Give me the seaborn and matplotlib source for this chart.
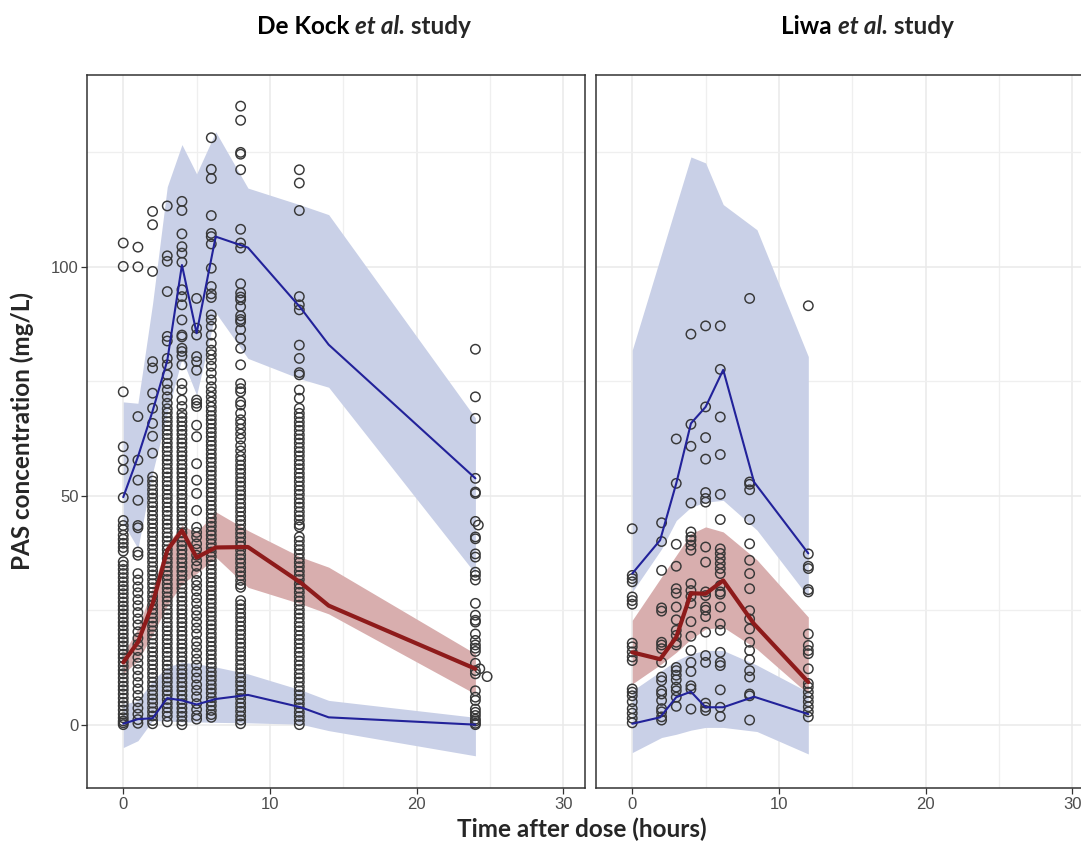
import numpy as np
import pandas as pd
import matplotlib
matplotlib.use("Agg")
import matplotlib.pyplot as plt
from matplotlib import font_manager
from matplotlib.ticker import MultipleLocator
import seaborn as sns

# ---------------- De Kock et al. study: observed PAS (mg/L) ----------------
dk_times = [0, 1, 2, 3, 4, 5, 6, 8, 12, 24]
dk_0h = [105.2, 100.1, 72.7, 60.7, 57.8, 55.7, 49.6, 44.6, 43.5, 42.6, 41.4, 40.5,
         39.6, 38.7, 37.9, 35.6, 34.8, 33.9, 33.0, 32.1, 31.2, 30.3, 29.5, 28.6, 27.7,
         26.8, 25.9, 25.1, 24.2, 23.3, 22.4, 21.6, 20.7, 19.8, 18.9, 18.1, 17.2, 16.3,
         15.4, 14.6, 13.7, 12.8, 11.9, 11.1, 10.2, 9.3, 8.4, 7.6, 6.7, 5.8, 4.9, 4.1,
         3.2, 2.3, 1.5, 0.8, 0.4, 0.0]
dk_1h = [104.3, 100.0, 67.3, 57.8, 53.4, 49.0, 43.5, 43.0, 37.7, 37.0, 33.0, 31.6,
         30.1, 28.8, 27.3, 26.0, 24.5, 23.1, 21.8, 20.3, 18.9, 17.5, 16.2, 14.7, 13.4,
         12.0, 10.6, 9.2, 7.8, 6.4, 5.0, 3.6, 2.3, 1.1, 0.3]
dk_2h = [112.1, 109.2, 99.0, 79.3, 77.9, 72.4, 69.1, 65.8, 63.0, 59.3, 54.1, 53.2,
         52.3, 51.3, 50.4, 49.5, 48.5, 47.6, 46.7, 45.7, 44.8, 43.9, 42.9, 42.0, 41.1,
         40.1, 39.2, 38.3, 37.3, 36.4, 35.5, 34.5, 33.6, 32.7, 31.7, 30.8, 29.9, 28.9,
         28.0, 27.1, 26.1, 25.2, 24.3, 23.3, 22.4, 21.5, 20.5, 19.6, 18.7, 17.7, 16.8,
         15.9, 14.9, 14.0, 13.1, 12.1, 11.2, 10.3, 9.3, 8.4, 7.5, 6.5, 5.6, 4.7, 3.7,
         2.8, 1.9, 0.9, 0.2]
dk_3h = [113.3, 102.4, 101.2, 94.6, 84.8, 83.8, 80.0, 78.6, 76.4, 74.5, 73.1, 71.6,
         70.2, 69.0, 68.1, 67.1, 66.2, 65.3, 64.3, 63.4, 62.5, 61.5, 60.6, 59.7, 58.7,
         57.8, 56.9, 55.9, 55.0, 54.1, 53.1, 52.2, 51.3, 50.3, 49.4, 48.5, 47.5, 46.6,
         45.7, 44.7, 43.8, 42.9, 41.9, 41.0, 40.1, 39.1, 38.2, 37.3, 36.3, 35.4, 34.5,
         33.5, 32.6, 31.7, 30.7, 29.8, 28.9, 27.9, 27.0, 26.1, 25.1, 24.2, 23.3, 22.3,
         21.4, 20.5, 19.5, 18.6, 17.7, 16.7, 15.8, 14.9, 13.9, 13.0, 12.1, 11.1, 10.2,
         9.3, 8.3, 7.4, 6.5, 5.5, 4.6, 3.7, 2.7, 1.8, 0.6]
dk_4h = [114.3, 112.3, 107.2, 104.4, 103.0, 101.0, 95.0, 93.5, 91.7, 88.4, 85.1, 84.7,
         82.2, 81.5, 80.5, 78.6, 74.5, 73.1, 70.9, 69.5, 68.0, 67.1, 66.2, 65.2, 64.3,
         63.4, 62.4, 61.5, 60.6, 59.6, 58.7, 57.8, 56.8, 55.9, 55.0, 54.0, 53.1, 52.2,
         51.2, 50.3, 49.4, 48.4, 47.5, 46.6, 45.6, 44.7, 43.8, 42.8, 41.9, 41.0, 40.0,
         39.1, 38.2, 37.2, 36.3, 35.4, 34.4, 33.5, 32.6, 31.6, 30.7, 29.8, 28.8, 27.9,
         27.0, 26.0, 25.1, 24.2, 23.2, 22.3, 21.4, 20.4, 19.5, 18.6, 17.6, 16.7, 15.8,
         14.8, 13.9, 13.0, 12.0, 11.1, 10.2, 9.2, 8.3, 7.4, 6.4, 5.5, 4.6, 3.6, 2.7,
         1.8, 0.8, 0.0]
dk_5h = [93.1, 86.6, 85.1, 80.4, 79.3, 77.4, 70.9, 70.2, 69.5, 65.4, 62.9, 57.0, 53.4,
         50.5, 46.8, 43.1, 42.0, 41.0, 39.5, 38.3, 37.0, 35.8, 34.6, 33.0, 31.5, 30.4,
         29.2, 27.7, 26.5, 25.0, 23.8, 22.4, 21.1, 19.8, 18.2, 17.0, 15.6, 14.3, 13.0,
         11.5, 10.2, 8.7, 7.5, 6.1, 4.6, 3.3, 2.0, 1.2]
dk_6h = [128.2, 121.3, 119.3, 111.2, 107.3, 106.6, 105.0, 99.7, 95.7, 94.1, 93.3, 89.5,
         88.4, 87.0, 85.1, 83.3, 81.8, 80.8, 79.7, 78.3, 76.8, 75.3, 73.8, 72.7, 71.6,
         70.5, 69.4, 68.5, 67.5, 66.6, 65.7, 64.7, 63.8, 62.9, 61.9, 61.0, 60.1, 59.1,
         58.2, 57.3, 56.3, 55.4, 54.5, 53.5, 52.6, 51.7, 50.7, 49.8, 48.9, 47.9, 47.0,
         46.1, 45.1, 44.2, 43.3, 42.3, 41.4, 40.5, 39.5, 38.6, 37.7, 36.7, 35.8, 34.9,
         33.9, 33.0, 32.1, 31.1, 30.2, 29.3, 28.3, 27.4, 26.5, 25.5, 24.6, 23.7, 22.7,
         21.8, 20.9, 19.9, 19.0, 18.1, 17.1, 16.2, 15.3, 14.3, 13.4, 12.5, 11.5, 10.6,
         9.7, 8.7, 7.8, 6.9, 5.9, 5.0, 4.1, 3.1, 2.2, 1.6]
dk_8h = [135.1, 132.0, 125.0, 124.6, 121.2, 108.2, 105.2, 104.1, 96.3, 94.3, 93.4,
         92.8, 91.3, 89.3, 88.5, 88.0, 86.3, 84.4, 82.2, 78.6, 74.5, 73.4, 72.7, 70.5,
         69.8, 68.0, 66.6, 65.7, 64.6, 63.5, 62.4, 60.9, 59.8, 58.6, 57.7, 56.7, 55.8,
         54.9, 53.9, 53.0, 52.1, 51.1, 50.2, 49.3, 48.3, 47.4, 46.5, 45.5, 44.6, 43.7,
         42.7, 41.8, 40.9, 39.9, 39.0, 38.1, 37.1, 36.2, 35.3, 34.3, 33.4, 32.5, 31.5,
         30.6, 30.0, 27.1, 26.2, 25.3, 24.3, 23.4, 22.5, 21.5, 20.6, 19.7, 18.7, 17.8,
         16.9, 15.9, 15.0, 14.1, 13.1, 12.2, 11.3, 10.3, 9.4, 8.5, 7.5, 6.6, 5.7, 4.7,
         3.8, 2.9, 1.9, 1.0, 0.2]
dk_12h = [121.2, 118.3, 112.3, 93.5, 91.7, 90.6, 82.9, 80.0, 76.9, 76.4, 73.1, 71.3,
          69.1, 68.0, 67.1, 66.1, 65.2, 64.3, 63.3, 62.4, 61.5, 60.5, 59.6, 58.7, 57.7,
          56.8, 55.9, 54.9, 54.0, 53.1, 52.1, 51.2, 50.3, 49.3, 48.4, 47.5, 46.5, 45.6,
          44.7, 43.7, 43.2, 41.0, 40.1, 39.1, 38.2, 37.3, 36.3, 35.4, 34.5, 33.5, 32.6,
          31.7, 30.7, 29.8, 28.9, 27.9, 27.0, 26.1, 25.1, 24.2, 23.3, 22.3, 21.4, 20.5,
          19.5, 18.6, 17.7, 16.7, 15.8, 14.9, 13.9, 13.0, 12.1, 11.1, 10.2, 9.3, 8.3,
          7.4, 6.5, 5.5, 4.6, 3.7, 2.7, 1.8, 0.9, 0.0]
dk_24h = [82.0, 71.6, 66.9, 53.8, 50.8, 50.5, 44.4, 41.0, 40.6, 37.3, 36.6, 33.3, 32.6,
          31.6, 26.5, 23.9, 22.8, 22.4, 19.8, 18.4, 17.4, 16.7, 16.0, 13.4, 11.8, 11.1,
          7.4, 6.0, 5.3, 3.4, 2.7, 2.0, 1.2, 0.8, 0.3, 0.0]
# late samples recorded slightly after 24 h
dk_late_time = [24.2, 24.3, 24.8]
dk_late_conc = [43.6, 12.2, 10.5]

# De Kock prediction intervals and observed percentiles
dk_bin_time = [0, 1, 2, 3, 4, 5, 6.3, 8.5, 12.1, 14, 24]
dk_obs_p95 = [49.7, 58.5, 68.5, 79.5, 100.4, 85.5, 106.6, 104.2, 91.0, 83.0, 53.8]
dk_obs_p50 = [13.6, 18.0, 26.4, 38.1, 42.4, 36.5, 38.7, 38.8, 31.0, 26.0, 12.2]
dk_obs_p05 = [0.2, 1.2, 1.4, 5.8, 5.3, 4.4, 5.6, 6.5, 3.8, 1.6, 0.0]
dk_pi95_hi = [70.5, 70.2, 92.0, 117.5, 126.7, 120.3, 129.5, 117.2, 113.5, 111.4, 67.0]
dk_pi95_lo = [44.0, 38.5, 55.0, 68.0, 80.0, 72.0, 90.0, 80.0, 75.5, 73.7, 33.0]
dk_pi50_hi = [15.5, 21.0, 30.0, 39.5, 43.5, 42.0, 46.5, 42.4, 36.6, 34.4, 15.5]
dk_pi50_lo = [11.1, 14.0, 19.7, 26.0, 30.8, 33.0, 36.6, 30.0, 26.4, 24.2, 6.7]
dk_pi05_hi = [4.5, 5.2, 9.6, 12.6, 13.6, 13.3, 12.6, 11.1, 7.6, 5.3, 1.6]
dk_pi05_lo = [-5.0, -3.5, 0.9, 0.8, 0.6, 0.6, 0.5, 0.4, 0.1, -1.3, -6.8]

# ---------------- Liwa et al. study: observed PAS (mg/L) ----------------
lw_times = [0, 2, 3, 4, 5, 6, 8, 12]
lw_0h = [42.8, 32.6, 31.9, 31.2, 27.9, 27.1, 26.3, 17.8, 17.0, 15.9, 14.8, 14.0, 7.8,
         7.1, 6.3, 5.0, 3.5, 2.5, 1.4, 0.4]
lw_2h = [44.1, 40.0, 33.7, 25.5, 24.8, 18.0, 17.4, 16.6, 13.6, 10.4, 9.6, 7.4, 6.7,
         5.3, 3.5, 2.8, 1.7, 1.0]
lw_3h = [62.4, 52.7, 39.4, 34.6, 29.7, 28.7, 25.7, 22.9, 20.6, 19.5, 18.0, 17.4, 12.5,
         11.8, 10.8, 9.8, 8.2, 7.4, 6.0, 4.0]
lw_4h = [85.3, 65.6, 60.8, 48.4, 42.1, 41.0, 40.3, 39.2, 38.1, 30.8, 29.3, 28.0, 26.5,
         22.5, 19.3, 16.2, 13.6, 11.6, 8.5, 7.8, 3.4]
lw_5h = [87.1, 69.4, 62.7, 58.0, 50.7, 49.4, 48.6, 38.8, 35.5, 29.0, 28.2, 25.7, 25.0,
         23.6, 20.2, 15.1, 13.6, 4.7, 3.8, 3.1]
lw_6h = [87.1, 77.6, 67.2, 59.0, 50.3, 44.8, 38.4, 37.4, 36.3, 35.2, 34.1, 33.0, 30.4,
         29.0, 28.5, 25.7, 22.0, 20.6, 15.8, 13.6, 12.9, 7.6, 3.8, 1.8]
lw_8h = [93.1, 53.0, 52.5, 51.3, 44.8, 39.5, 35.9, 33.0, 29.7, 24.9, 23.1, 20.9, 18.0,
         16.2, 14.2, 11.8, 10.4, 6.7, 6.3, 1.0]
lw_12h = [91.5, 37.3, 34.6, 34.1, 29.5, 29.0, 19.8, 17.3, 16.2, 15.5, 12.2, 9.0, 8.2,
          7.1, 6.0, 5.0, 3.9, 2.8, 1.7]

# Liwa observed percentiles
lw_line_time = [0, 1.9, 3, 4, 5, 6.2, 8.3, 12]
lw_obs_p95 = [33.0, 40.3, 52.7, 65.8, 69.4, 77.5, 53.0, 37.4]
lw_obs_p50 = [15.8, 14.3, 19.1, 28.7, 28.6, 31.5, 22.0, 9.3]
lw_obs_p05 = [0.2, 1.6, 6.0, 7.2, 3.8, 3.8, 6.1, 2.3]
# Liwa prediction intervals
lw_band_time = [0, 2, 3, 4, 5, 6.2, 8.5, 12]
lw_pi95_hi = [81.8, 102.9, 113.5, 124.0, 122.7, 113.6, 108.1, 80.4]
lw_pi95_lo = [29.0, 38.4, 44.6, 47.5, 48.6, 49.0, 42.5, 27.9]
lw_pi50_hi = [22.8, 32.3, 37.0, 41.7, 43.2, 42.1, 36.0, 23.5]
lw_pi50_lo = [8.9, 13.3, 15.8, 18.7, 20.9, 21.3, 16.5, 6.7]
lw_pi05_hi = [7.4, 11.8, 14.0, 15.5, 16.2, 16.2, 13.0, 7.1]
lw_pi05_lo = [-6.1, -2.8, -2.1, -1.2, -0.6, -0.6, -1.5, -6.4]

# ---------------- styling ----------------
BLUE_BAND = "#C9D0E7"
RED_BAND = "#D8AEAE"
BLUE_LINE = "#22229A"
RED_LINE = "#8E1B1B"
POINT_EDGE = "#383838"
GRID = "#EAEAEA"
TICK_TXT = "#4D4D4D"

sns.set_style("white")
names = {f.name for f in font_manager.fontManager.ttflist}
narrow = "Liberation Sans Narrow" if "Liberation Sans Narrow" in names else "Liberation Sans"
head = "Lato" if "Lato" in names else narrow
plt.rcParams["font.family"] = [narrow, "DejaVu Sans"]
HEAD_FONT = [head, "DejaVu Sans"]
HEAD_SIZE = 17.5

W, H = 1081, 841
fig = plt.figure(figsize=(W / 100, H / 100), dpi=100)
fig.patch.set_facecolor("white")

panel_top, panel_bot = 75, 788.3
panel_w = 498
ax_l = fig.add_axes([87 / W, (H - panel_bot) / H, panel_w / W, (panel_bot - panel_top) / H])
ax_r = fig.add_axes([596 / W, (H - panel_bot) / H, panel_w / W, (panel_bot - panel_top) / H])


def obs_frame(times, columns):
    t = np.concatenate([np.full(len(c), tt, dtype=float) for tt, c in zip(times, columns)])
    v = np.concatenate([np.asarray(c, dtype=float) for c in columns])
    return pd.DataFrame({"time": t, "conc": v})


dk_obs = obs_frame(dk_times + dk_late_time,
                   [dk_0h, dk_1h, dk_2h, dk_3h, dk_4h, dk_5h, dk_6h, dk_8h, dk_12h, dk_24h]
                   + [[c] for c in dk_late_conc])
lw_obs = obs_frame(lw_times, [lw_0h, lw_2h, lw_3h, lw_4h, lw_5h, lw_6h, lw_8h, lw_12h])


def draw_panel(ax, obs, band_t, bands, line_t, lines, show_y):
    ax.set_facecolor("white")
    for lo, hi, col in bands:
        ax.fill_between(band_t, lo, hi, color=col, linewidth=0, zorder=1)
    sns.scatterplot(data=obs, x="time", y="conc", ax=ax, marker="o", s=46,
                    facecolors="none", edgecolor=POINT_EDGE, linewidth=1.05,
                    zorder=2, legend=False)
    for vals, col, lw in lines:
        sns.lineplot(x=line_t, y=vals, ax=ax, color=col, linewidth=lw,
                     sort=False, estimator=None, zorder=3, legend=False)

    ax.set_xlim(-2.47, 31.47)
    ax.set_ylim(-13.9, 141.9)
    ax.xaxis.set_major_locator(MultipleLocator(10))
    ax.xaxis.set_minor_locator(MultipleLocator(5))
    ax.yaxis.set_major_locator(MultipleLocator(50))
    ax.yaxis.set_minor_locator(MultipleLocator(25))
    ax.grid(True, which="major", color=GRID, linewidth=1.1, zorder=0)
    ax.grid(True, which="minor", color="#EFEFEF", linewidth=0.9, zorder=0)
    ax.set_axisbelow(True)
    ax.tick_params(axis="both", which="major", length=4, width=0.9, color="#333333",
                   labelcolor=TICK_TXT, labelsize=12, pad=2, direction="out")
    ax.tick_params(axis="both", which="minor", length=0)
    if not show_y:
        ax.tick_params(axis="y", which="both", left=False, labelleft=False)
    else:
        ax.tick_params(axis="y", left=True)
    ax.tick_params(axis="x", bottom=True)
    ax.set_xlabel("")
    ax.set_ylabel("")
    for sp in ax.spines.values():
        sp.set_color("#333333")
        sp.set_linewidth(1.1)
        sp.set_visible(True)


draw_panel(ax_l, dk_obs, dk_bin_time,
           [(dk_pi95_lo, dk_pi95_hi, BLUE_BAND), (dk_pi50_lo, dk_pi50_hi, RED_BAND),
            (dk_pi05_lo, dk_pi05_hi, BLUE_BAND)],
           dk_bin_time,
           [(dk_obs_p95, BLUE_LINE, 1.5), (dk_obs_p05, BLUE_LINE, 1.5),
            (dk_obs_p50, RED_LINE, 3.0)], show_y=True)
draw_panel(ax_r, lw_obs, lw_band_time,
           [(lw_pi95_lo, lw_pi95_hi, BLUE_BAND), (lw_pi50_lo, lw_pi50_hi, RED_BAND),
            (lw_pi05_lo, lw_pi05_hi, BLUE_BAND)],
           lw_line_time,
           [(lw_obs_p95, BLUE_LINE, 1.5), (lw_obs_p05, BLUE_LINE, 1.5),
            (lw_obs_p50, RED_LINE, 3.0)], show_y=False)


def rich_title(x_px, y_px, first, italic, last, size=HEAD_SIZE):
    t1 = fig.text(x_px / W, 1 - y_px / H, first, fontsize=size, fontweight="bold",
                  family=HEAD_FONT, ha="left", va="center", color="black")
    a2 = ax_l.annotate(italic, xy=(1, 0), xycoords=t1, ha="left", va="bottom",
                       fontsize=size, fontweight="bold", fontstyle="italic",
                       family=HEAD_FONT, annotation_clip=False)
    ax_l.annotate(last, xy=(1, 0), xycoords=a2, ha="left", va="bottom",
                  fontsize=size, fontweight="bold", family=HEAD_FONT,
                  annotation_clip=False)


rich_title(257, 26, "De Kock ", "et al.", " study")
rich_title(781, 26, "Liwa ", "et al.", " study")

fig.text(582 / W, 1 - 829 / H, "Time after dose (hours)", fontsize=HEAD_SIZE,
         fontweight="bold", family=HEAD_FONT, ha="center", va="center")
fig.text(22 / W, 1 - 431 / H, "PAS concentration (mg/L)", fontsize=HEAD_SIZE,
         fontweight="bold", family=HEAD_FONT, ha="center", va="center", rotation=90)

fig.savefig("out.png", dpi=100, facecolor="white")
